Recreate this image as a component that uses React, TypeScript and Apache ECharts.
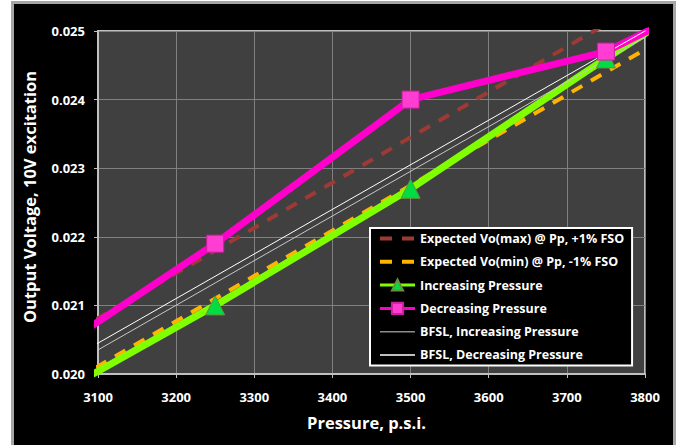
import React, { useEffect, useRef } from "react";
import * as echarts from "echarts";

const pressure = [3000, 3250, 3500, 3750, 4000];
const expectedMax = [0.02015, 0.0218, 0.02345, 0.0251, 0.02675];
const expectedMin = [0.01945, 0.0211, 0.02275, 0.0244, 0.02605];
const increasing = [0.0194, 0.021, 0.0227, 0.0246, 0.0264];
const decreasing = [0.02, 0.0219, 0.024, 0.0247, 0.0261];
const bfslPressure = [3000, 4000];
const bfslIncreasing = [0.0197, 0.02621];
const bfslDecreasing = [0.0198, 0.0263];

const seriesNames = [
  "Expected Vo(max) @ Pp, +1% FSO",
  "Expected Vo(min) @ Pp, -1% FSO",
  "Increasing Pressure",
  "Decreasing Pressure",
  "BFSL, Increasing Pressure",
  "BFSL, Decreasing Pressure",
];
const xTitle = "Pressure, p.s.i.";
const yTitle = "Output Voltage, 10V excitation";

const zip = (xs: number[], ys: number[]) => xs.map((x, i) => [x, ys[i]]);

const FONT = "Open Sans";

export default function App() {
  const ref = useRef<HTMLDivElement>(null);
  useEffect(() => {
    if (!ref.current) return;
    const chart = echarts.init(ref.current, undefined, { renderer: "svg" });
    chart.setOption({
      animation: false,
      backgroundColor: "#ffffff",
      graphic: [
        {
          type: "rect",
          z: -10,
          shape: { x: 12.5, y: 2.5, width: 662, height: 447 },
          style: { fill: "#000000", stroke: "#a6a6a6", lineWidth: 3 },
        },
        {
          type: "text",
          x: 29,
          y: 197,
          rotation: Math.PI / 2,
          style: {
            text: yTitle,
            fill: "#ffffff",
            fontFamily: FONT,
            fontWeight: "bold",
            fontSize: 16.5,
            align: "center",
            verticalAlign: "middle",
          },
        },
      ],
      grid: {
        left: 98,
        right: 36,
        top: 31,
        bottom: 71,
        show: true,
        backgroundColor: "#404040",
        borderColor: "#c0c0c0",
        borderWidth: 2,
      },
      xAxis: {
        type: "value",
        min: 3100,
        max: 3800,
        interval: 100,
        name: xTitle,
        nameLocation: "middle",
        nameGap: 40,
        nameTextStyle: { color: "#ffffff", fontFamily: FONT, fontWeight: "bold", fontSize: 16.5, padding: [0, 10, 0, 0] },
        axisLine: { show: true, lineStyle: { color: "#c0c0c0", width: 2 } },
        axisTick: { show: true, length: 4, lineStyle: { color: "#c0c0c0" } },
        axisLabel: {
          color: "#ffffff",
          fontFamily: FONT,
          fontWeight: "bold",
          fontSize: 13,
          margin: 16,
          formatter: (v: number) => String(v),
        },
        splitLine: { show: true, lineStyle: { color: "#808080", width: 1 } },
      },
      yAxis: {
        type: "value",
        min: 0.02,
        max: 0.025,
        interval: 0.001,
        axisLine: { show: true, lineStyle: { color: "#c0c0c0", width: 2 } },
        axisTick: { show: true, length: 4, lineStyle: { color: "#c0c0c0" } },
        axisLabel: {
          color: "#ffffff",
          fontFamily: FONT,
          fontWeight: "bold",
          fontSize: 13,
          margin: 13,
          formatter: (v: number) => v.toFixed(3),
        },
        splitLine: { show: true, lineStyle: { color: "#808080", width: 1 } },
      },
      legend: {
        orient: "vertical",
        left: 370,
        top: 228,
        backgroundColor: "#000000",
        borderColor: "#ffffff",
        borderWidth: 2,
        padding: [4, 8, 4, 8],
        itemWidth: 35,
        itemHeight: 14,
        itemGap: 10.2,
        selectedMode: false,
        textStyle: { color: "#ffffff", fontFamily: FONT, fontWeight: "bold", fontSize: 12.5 },
        data: [
          { name: seriesNames[0], lineStyle: { width: 4 }, itemStyle: { opacity: 0 } },
          { name: seriesNames[1], lineStyle: { width: 4 }, itemStyle: { opacity: 0 } },
          { name: seriesNames[2], lineStyle: { width: 3 } },
          { name: seriesNames[3], lineStyle: { width: 3 } },
          { name: seriesNames[4], lineStyle: { width: 1.5, color: "#8c8c8c" }, itemStyle: { opacity: 0 } },
          { name: seriesNames[5], lineStyle: { width: 1.5 }, itemStyle: { opacity: 0 } },
        ],
      },
      series: [
        {
          name: seriesNames[0],
          type: "line",
          data: zip(pressure, expectedMax),
          showSymbol: false,
          symbol: "none",
          lineStyle: { color: "#9e3a35", width: 4, type: [12, 10] },
          itemStyle: { color: "#9e3a35" },
        },
        {
          name: seriesNames[1],
          type: "line",
          data: zip(pressure, expectedMin),
          showSymbol: false,
          symbol: "none",
          lineStyle: { color: "#ffb400", width: 4, type: [12, 10] },
          itemStyle: { color: "#ffb400" },
        },
        {
          name: seriesNames[2],
          type: "line",
          data: zip(pressure, increasing),
          symbol: "triangle",
          symbolSize: 19,
          lineStyle: { color: "#80ff00", width: 7 },
          itemStyle: { color: "#00dd44", borderColor: "#6a8f3a", borderWidth: 1 },
        },
        {
          name: seriesNames[3],
          type: "line",
          data: zip(pressure, decreasing),
          symbol: "rect",
          symbolSize: 17,
          lineStyle: { color: "#ff00cc", width: 7 },
          itemStyle: { color: "#ff3dd2", borderColor: "#cc1fa0", borderWidth: 1 },
        },
        {
          name: seriesNames[4],
          type: "line",
          data: zip(bfslPressure, bfslIncreasing),
          showSymbol: false,
          symbol: "none",
          lineStyle: { color: "#c8c8c8", width: 1 },
          itemStyle: { color: "#c8c8c8" },
        },
        {
          name: seriesNames[5],
          type: "line",
          data: zip(bfslPressure, bfslDecreasing),
          showSymbol: false,
          symbol: "none",
          lineStyle: { color: "#ffffff", width: 1 },
          itemStyle: { color: "#ffffff" },
        },
      ],
    });
    return () => chart.dispose();
  }, []);
  return (
    <div style={{ position: "fixed", left: 0, top: 0, width: 681, height: 445, background: "#ffffff" }}>
      <div ref={ref} style={{ width: 681, height: 445 }} />
    </div>
  );
}
